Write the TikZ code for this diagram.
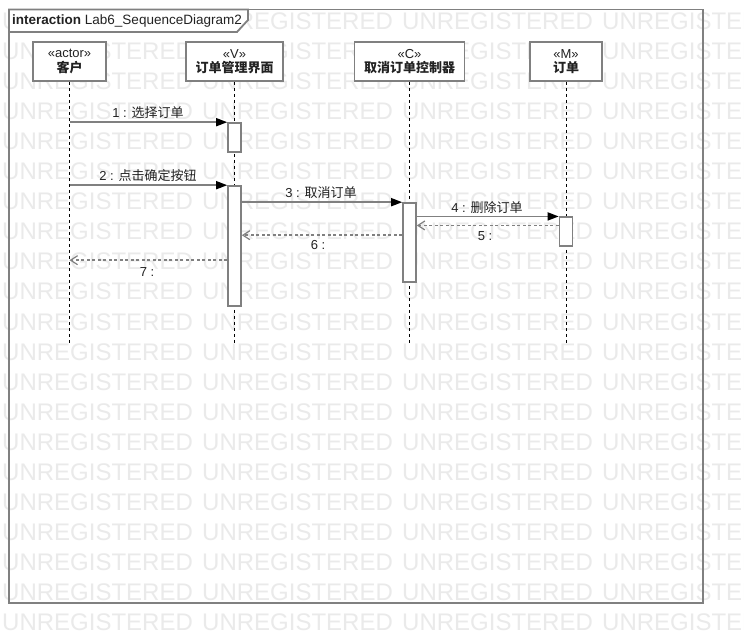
\documentclass[tikz,border=0pt]{standalone}
\usepackage{fontspec}
\setmainfont{Liberation Sans}
\newfontfamily\cjk{Noto Sans CJK SC}
\newcommand\zhs[1]{{\cjk #1}}
\usetikzlibrary{arrows.meta,calc}
\definecolor{lineg}{HTML}{808080}
\definecolor{wmg}{HTML}{EAEAEA}
\definecolor{txt}{HTML}{222222}
\tikzset{
  wm/.style={font=\fontsize{24}{24}\selectfont, text=wmg, anchor=base west, inner sep=0pt},
  headbox/.style={draw=lineg, line width=1.6pt, fill=white, minimum height=39pt, inner sep=0pt,
    align=center, font=\fontsize{13}{15.5}\selectfont, text=txt},
  actbox/.style={draw=lineg, line width=1.6pt, fill=white, minimum width=13pt, inner sep=0pt},
  lifeline/.style={draw=black, line width=0.9pt, dash pattern=on 3pt off 3pt},
  msg/.style={draw=lineg, line width=1.6pt, -{Triangle[length=11pt,width=8pt,color=black]}},
  ret/.style={draw=lineg, line width=1.6pt, dash pattern=on 3pt off 2.5pt,
    -{Straight Barb[length=7pt,width=9pt,line width=1.2pt]}},
  lbl/.style={font=\fontsize{13}{15}\selectfont, text=txt, inner sep=0pt},
  framebox/.style={draw=lineg, line width=1.8pt},
}
\begin{document}
\begin{tikzpicture}[x=1pt,y=-1pt]
\useasboundingbox (0,0) rectangle (744,644);
\fill[white] (0,0) rectangle (744,644);
% watermark
\foreach \i in {0,1,2,3} {
  \foreach \j in {1,...,21} {
    \node[wm] (wm-\i-\j) at (2+200*\i, 30*\j) {UNREGISTERED};
  }
}
% frame
\draw[framebox] (9,9.5) rectangle (703,603);
\filldraw[framebox, fill=white] (9,9.5) -- (248,9.5) -- (248,20) -- (237,32) -- (9,32) -- cycle;
\node[lbl, anchor=west, font=\fontsize{13.5}{15}\selectfont] (title) at (12,21) {\textbf{interaction} Lab6\_SequenceDiagram2};
% lifeline heads
\node[headbox, minimum width=73pt] (actor) at (69.5,61.5) {«actor»\\[-1pt]\textbf{\zhs{客户}}};
\node[headbox, minimum width=97pt] (view) at (234.5,61.5) {«V»\\[-1pt]\textbf{\zhs{订单管理界面}}};
\node[headbox, minimum width=110pt] (ctrl) at (409.5,61.5) {«C»\\[-1pt]\textbf{\zhs{取消订单控制器}}};
\node[headbox, minimum width=72pt] (model) at (566,61.5) {«M»\\[-1pt]\textbf{\zhs{订单}}};
% lifeline ends
\coordinate (actorEnd) at (actor.south |- 0,343);
\coordinate (viewEnd) at (view.south |- 0,343);
\coordinate (ctrlEnd) at (ctrl.south |- 0,343);
\coordinate (modelEnd) at (model.south |- 0,343);
\draw[lifeline] (actor.south) -- (actorEnd);
\draw[lifeline] (view.south) -- (viewEnd);
\draw[lifeline] (ctrl.south) -- (ctrlEnd);
\draw[lifeline] (model.south) -- (modelEnd);
% activations
\node[actbox, minimum height=29pt] (act1) at (234.5,137.5) {};
\node[actbox, minimum height=120pt] (act2) at (234.5,246) {};
\node[actbox, minimum height=79pt] (act3) at (409.5,242.5) {};
\node[actbox, minimum height=28.5pt] (act4) at (566,231.5) {};
% messages
\draw[msg] (act1.north west -| actor.south) -- (act1.north west);
\node[lbl] (m1) at (148,113) {1 : \zhs{选择订单}};
\draw[msg] (act2.north west -| actor.south) -- (act2.north west);
\node[lbl] (m2) at (148,176) {2 : \zhs{点击确定按钮}};
\draw[msg] (act3.north west -| act2.east) -- (act3.north west);
\node[lbl] (m3) at (321,193) {3 : \zhs{取消订单}};
\draw[msg] (act4.north west -| act3.east) -- (act4.north west);
\node[lbl] (m4) at (487,208) {4 : \zhs{删除订单}};
% returns
\coordinate (r5) at ($(act4.north west)+(0,9)$);
\draw[ret] (r5) -- (r5 -| act3.east);
\node[lbl] (m5) at (485,236) {5 :};
\coordinate (r6) at ($(act3.north west)+(0,33)$);
\draw[ret] (r6) -- (r6 -| act2.east);
\node[lbl] (m6) at (318,245) {6 :};
\coordinate (r7) at ($(act2.north west)+(0,75)$);
\draw[ret] (r7) -- (r7 -| actor.south);
\node[lbl] (m7) at (147,272) {7 :};
\end{tikzpicture}
\end{document}
